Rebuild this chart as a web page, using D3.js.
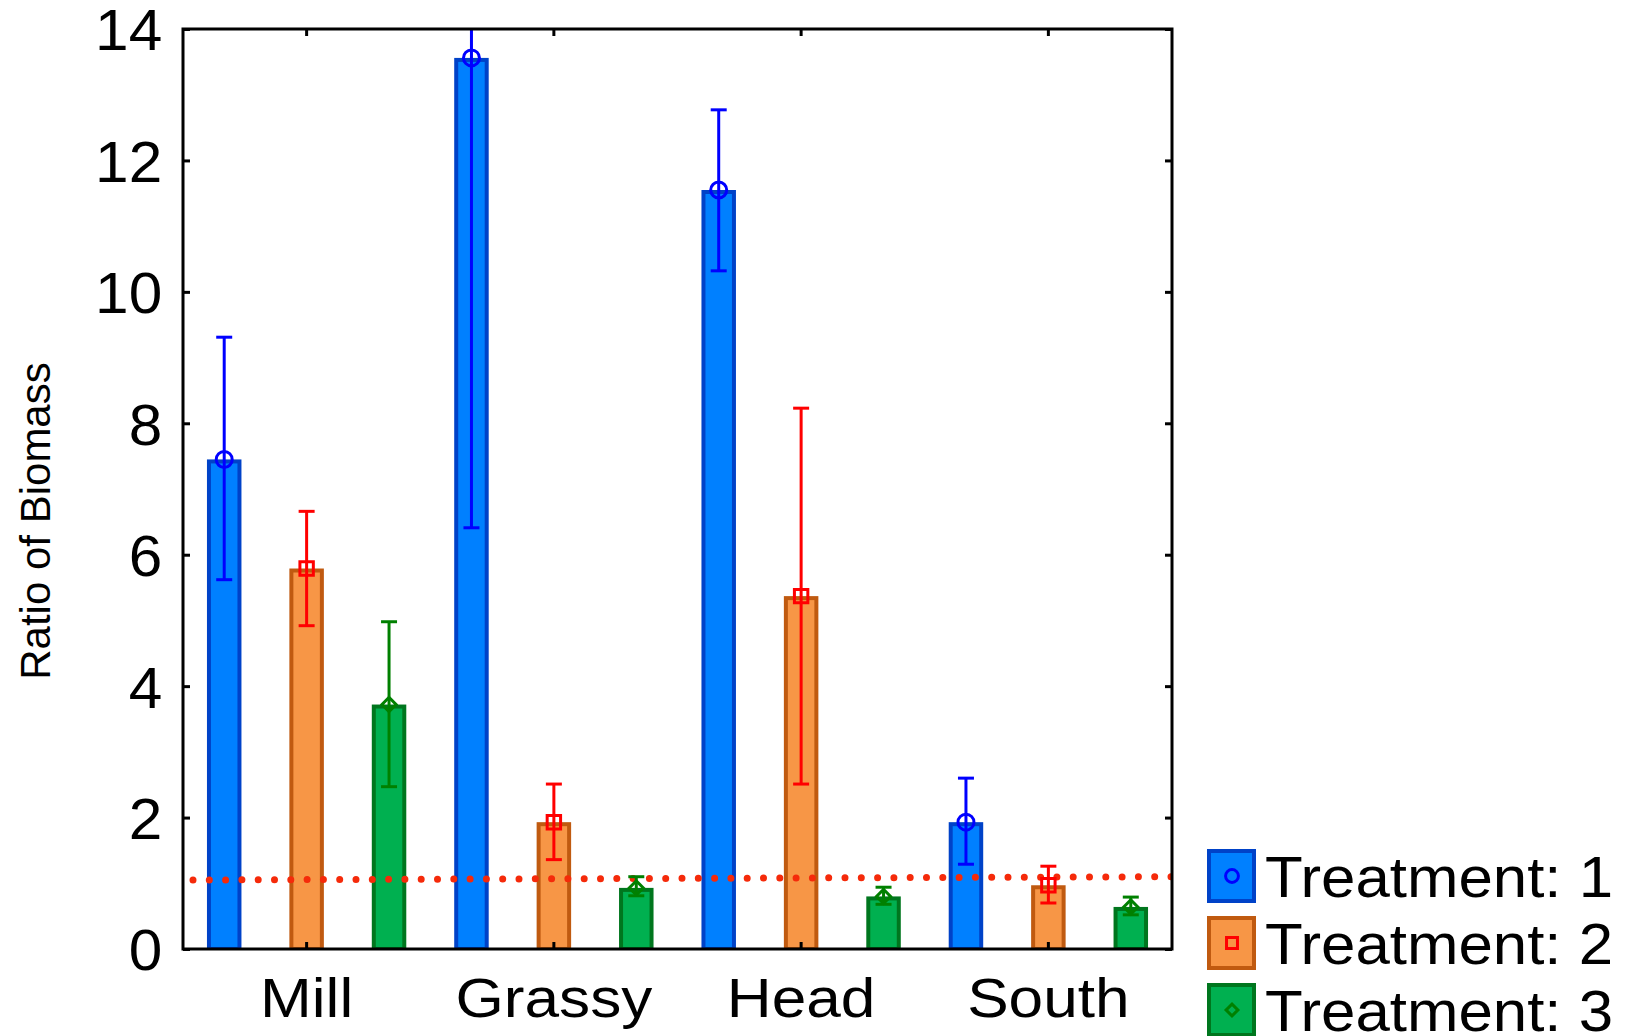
<!DOCTYPE html>
<html>
<head>
<meta charset="utf-8">
<script src="https://cdn.jsdelivr.net/npm/d3@7"></script>
<style>
  html, body { margin: 0; padding: 0; background: #fff; }
  svg { display: block; font-family: "Liberation Sans", Arial, sans-serif; }
</style>
</head>
<body>
<svg id="chart" width="1633" height="1036"></svg>
<script>
// ---- data ----
const sites = ["Mill", "Grassy", "Head", "South"];
const treatments = ["1", "2", "3"];
const means1 = [7.45, 13.56, 11.55, 1.93];
const means2 = [5.79, 1.93, 5.37, 0.97];
const means3 = [3.72, 0.93, 0.80, 0.64];
const upper1 = [9.31, 20.71, 12.77, 2.60];
const lower1 = [5.62, 6.41, 10.32, 1.29];
const upper2 = [6.66, 2.51, 8.23, 1.26];
const lower2 = [4.92, 1.36, 2.51, 0.70];
const upper3 = [4.98, 1.10, 0.94, 0.79];
const lower3 = [2.47, 0.81, 0.68, 0.52];
const yTicks = [0, 2, 4, 6, 8, 10, 12, 14];
const refLine = [1.05, 1.10]; // dotted reference line, left and right ends
const yTitle = "Ratio of Biomass";
const legendLabel = "Treatment:";

// ---- styles ----
const fills = ["#0080ff", "#f79646", "#00b050"];
const strokes = ["#0042c8", "#c05a10", "#00761e"];
const errCol = ["#0000ff", "#ff0000", "#008000"];
const markers = [d3.symbolCircle, d3.symbolSquare, d3.symbolSquare];
const markerRot = [0, 0, 45];

const svg = d3.select("#chart");
const L = 183, R = 1172, T = 29, B = 949;

const rows = [];
sites.forEach((s, i) => {
  treatments.forEach((t, j) => {
    const m = [means1, means2, means3][j][i];
    const u = [upper1, upper2, upper3][j][i];
    const lo = [lower1, lower2, lower3][j][i];
    rows.push({ key: s + "_" + t, site: s, t: j, mean: m, up: u, lo: lo });
  });
});

const x = d3.scaleBand().domain(rows.map(d => d.key)).range([L, R]).padding(0);
const y = d3.scaleLinear().domain([0, 14]).range([B, T]);
const bw = x.bandwidth() * 0.37;
const cx = d => x(d.key) + x.bandwidth() / 2;

svg.append("defs").append("clipPath").attr("id", "clip")
  .append("rect").attr("x", L).attr("y", T).attr("width", R - L).attr("height", B - T);

const plot = svg.append("g").attr("clip-path", "url(#clip)");

// bars
plot.selectAll("rect.bar").data(rows).join("rect")
  .attr("class", "bar")
  .attr("x", d => cx(d) - bw / 2)
  .attr("width", bw)
  .attr("y", d => y(d.mean) + 2)
  .attr("height", d => y(0) - y(d.mean) - 2)
  .attr("fill", d => fills[d.t])
  .attr("stroke", d => strokes[d.t])
  .attr("stroke-width", 4);

// reference dotted line
plot.append("line")
  .attr("x1", L + 10).attr("x2", R)
  .attr("y1", y(refLine[0])).attr("y2", y(refLine[1]))
  .attr("stroke", "#f52a0a").attr("stroke-width", 7)
  .attr("stroke-linecap", "round").attr("stroke-dasharray", "0 16.3");

// error bars
const eg = plot.selectAll("g.err").data(rows).join("g").attr("class", "err");
eg.append("line")
  .attr("x1", cx).attr("x2", cx)
  .attr("y1", d => y(d.up)).attr("y2", d => y(d.lo))
  .attr("stroke", d => errCol[d.t]).attr("stroke-width", 3);
eg.append("line")
  .attr("x1", d => cx(d) - 8).attr("x2", d => cx(d) + 8)
  .attr("y1", d => y(d.up)).attr("y2", d => y(d.up))
  .attr("stroke", d => errCol[d.t]).attr("stroke-width", 3);
eg.append("line")
  .attr("x1", d => cx(d) - 8).attr("x2", d => cx(d) + 8)
  .attr("y1", d => y(d.lo)).attr("y2", d => y(d.lo))
  .attr("stroke", d => errCol[d.t]).attr("stroke-width", 3);
eg.append("path")
  .attr("transform", d => `translate(${cx(d)},${y(d.mean)}) rotate(${markerRot[d.t]})`)
  .attr("d", d => d3.symbol().type(markers[d.t]).size(d.t === 0 ? 200 : (d.t === 1 ? 180 : 100))())
  .attr("fill", "none")
  .attr("stroke", d => errCol[d.t]).attr("stroke-width", 3);

// axes (ticks inward)
const yL = svg.append("g").attr("transform", `translate(${L},0)`)
  .call(d3.axisLeft(y).tickValues(yTicks).tickSize(-7).tickPadding(20).tickSizeOuter(0));
const yR = svg.append("g").attr("transform", `translate(${R},0)`)
  .call(d3.axisRight(y).tickValues(yTicks).tickSize(-7).tickFormat("").tickSizeOuter(0));
const siteKeys = sites.map(s => s + "_2");
const xB = svg.append("g").attr("transform", `translate(0,${B})`)
  .call(d3.axisBottom(x).tickValues(siteKeys).tickSize(-7).tickPadding(30)
    .tickFormat(k => k.split("_")[0]).tickSizeOuter(0));
const xT = svg.append("g").attr("transform", `translate(0,${T})`)
  .call(d3.axisTop(x).tickValues(siteKeys).tickSize(-7).tickFormat("").tickSizeOuter(0));

[yL, yR, xB, xT].forEach(g => {
  g.select(".domain").remove();
  g.selectAll(".tick line").attr("stroke", "#000").attr("stroke-width", 3);
  g.selectAll("text").attr("fill", "#000");
});
yL.selectAll(".tick line").attr("x1", 0).attr("x2", 7);
yR.selectAll(".tick line").attr("x1", 0).attr("x2", -7);
xB.selectAll(".tick line").attr("y1", 0).attr("y2", -7);
xT.selectAll(".tick line").attr("y1", 0).attr("y2", 7);
yL.selectAll("text").attr("font-size", 58).attr("x", -20).attr("dy", "0.36em")
  .attr("transform", "scale(1.04,1)");
xB.selectAll("text").attr("font-size", 56).attr("dy", "0.71em").attr("y", 28)
  .attr("transform", "scale(1.11,1)");

// frame
svg.append("rect").attr("x", L).attr("y", T).attr("width", R - L).attr("height", B - T)
  .attr("fill", "none").attr("stroke", "#000").attr("stroke-width", 3);

// y title
svg.append("text")
  .attr("transform", `translate(50,${(T + B) / 2 + 32}) rotate(-90)`)
  .attr("text-anchor", "middle").attr("font-size", 42).attr("fill", "#000")
  .text(yTitle);

// legend
const lg = svg.append("g");
treatments.forEach((t, j) => {
  const top = 849 + j * 67;
  lg.append("rect").attr("x", 1209).attr("y", top + 2).attr("width", 45).attr("height", 50)
    .attr("fill", fills[j]).attr("stroke", strokes[j]).attr("stroke-width", 4);
  lg.append("path").attr("transform", `translate(1232,${top + 27}) rotate(${markerRot[j]})`)
    .attr("d", d3.symbol().type(markers[j]).size(j === 0 ? 130 : (j === 1 ? 120 : 70))())
    .attr("fill", "none").attr("stroke", errCol[j]).attr("stroke-width", 3);
  lg.append("text").attr("x", 1265).attr("y", top + 48)
    .attr("font-size", 57).attr("fill", "#000")
    .attr("textLength", 348).attr("lengthAdjust", "spacingAndGlyphs")
    .text(legendLabel + " " + t);
});
</script>
</body>
</html>
